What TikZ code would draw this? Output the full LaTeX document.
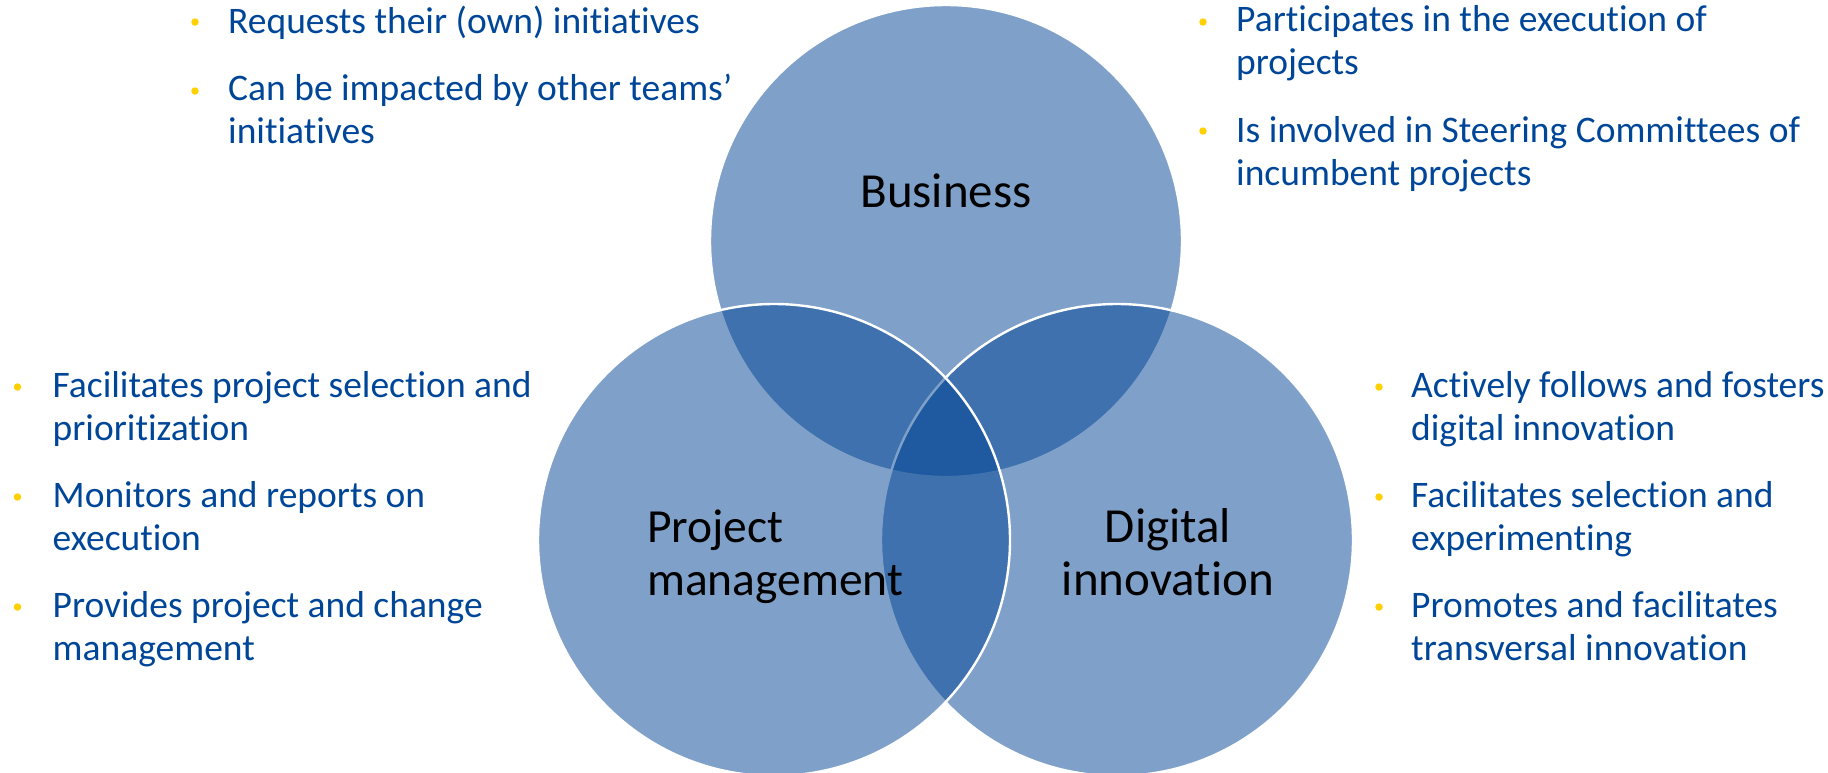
\documentclass[tikz,border=0pt]{standalone}
\usepackage{fontspec}
\setmainfont{Carlito}[Ligatures=NoCommon]

\newlength{\du}
\setlength{\du}{1pt}

\definecolor{vennblue}{RGB}{0,67,147}
\definecolor{itemblue}{RGB}{0,70,152}
\definecolor{dotyellow}{RGB}{255,208,0}

\tikzset{
  venncircle/.style={circle, minimum size=472\du, inner sep=0pt,
    fill=vennblue, fill opacity=0.5, draw=white, draw opacity=1, line width=2.4\du},
  vennlabel/.style={inner sep=0pt, anchor=base, align=center,
    font=\fontsize{49}{53}\selectfont},
  itemtext/.style={inner sep=0pt, anchor=base west, align=left, text=itemblue,
    font=\fontsize{37.5}{42.5}\selectfont},
  itemdot/.style={circle, fill=dotyellow, minimum size=7.5\du, inner sep=0pt},
}

\begin{document}
\begin{tikzpicture}
\pgftransformxscale{1.000000}
\pgftransformyscale{-1.000000}
\useasboundingbox (0\du,0\du) rectangle (1828\du,772\du);
% circles, drawn back to front
\node[venncircle] (business) at (946\du,241\du) {};
\node[venncircle] (digital) at (1117\du,540\du) {};
\node[venncircle] (project) at (774\du,540\du) {};
% circle titles
\node[vennlabel] (businesstitle) at (946\du,207\du) {Business};
\node[vennlabel, anchor=base west, align=left, font=\fontsize{47.5}{53}\selectfont] (projecttitle) at (647\du,595\du) {Project\\management};
\node[vennlabel] (digitaltitle) at (1168\du,595\du) {Digital\\innovation};
% business items
\node[itemdot] (bizdot1) at (195\du,22\du) {};
\node[itemtext] (bizitem1) at (228\du,33\du) {Requests their (own) initiatives};
\node[itemdot] (bizdot2) at (195\du,91\du) {};
\node[itemtext] (bizitem2) at (228\du,143\du) {Can be impacted by other teams’\\initiatives};
\node[itemdot] (bizdot3) at (1203\du,22\du) {};
\node[itemtext] (bizitem3) at (1236\du,74\du) {Participates in the execution of\\projects};
\node[itemdot] (bizdot4) at (1203\du,131\du) {};
\node[itemtext] (bizitem4) at (1236\du,185\du) {Is involved in Steering Committees of\\incumbent projects};
% project management items
\node[itemdot] (pmdot1) at (17.5\du,387\du) {};
\node[itemtext] (pmitem1) at (52.5\du,440\du) {Facilitates project selection and\\prioritization};
\node[itemdot] (pmdot2) at (17.5\du,497\du) {};
\node[itemtext] (pmitem2) at (52.5\du,550\du) {Monitors and reports on\\execution};
\node[itemdot] (pmdot3) at (17.5\du,607\du) {};
\node[itemtext] (pmitem3) at (52.5\du,660\du) {Provides project and change\\management};
% digital innovation items
\node[itemdot] (didot1) at (1379\du,387\du) {};
\node[itemtext] (diitem1) at (1411\du,440\du) {Actively follows and fosters\\digital innovation};
\node[itemdot] (didot2) at (1379\du,497\du) {};
\node[itemtext] (diitem2) at (1411\du,550\du) {Facilitates selection and\\experimenting};
\node[itemdot] (didot3) at (1379\du,607\du) {};
\node[itemtext] (diitem3) at (1411\du,660\du) {Promotes and facilitates\\transversal innovation};
\end{tikzpicture}
\end{document}
